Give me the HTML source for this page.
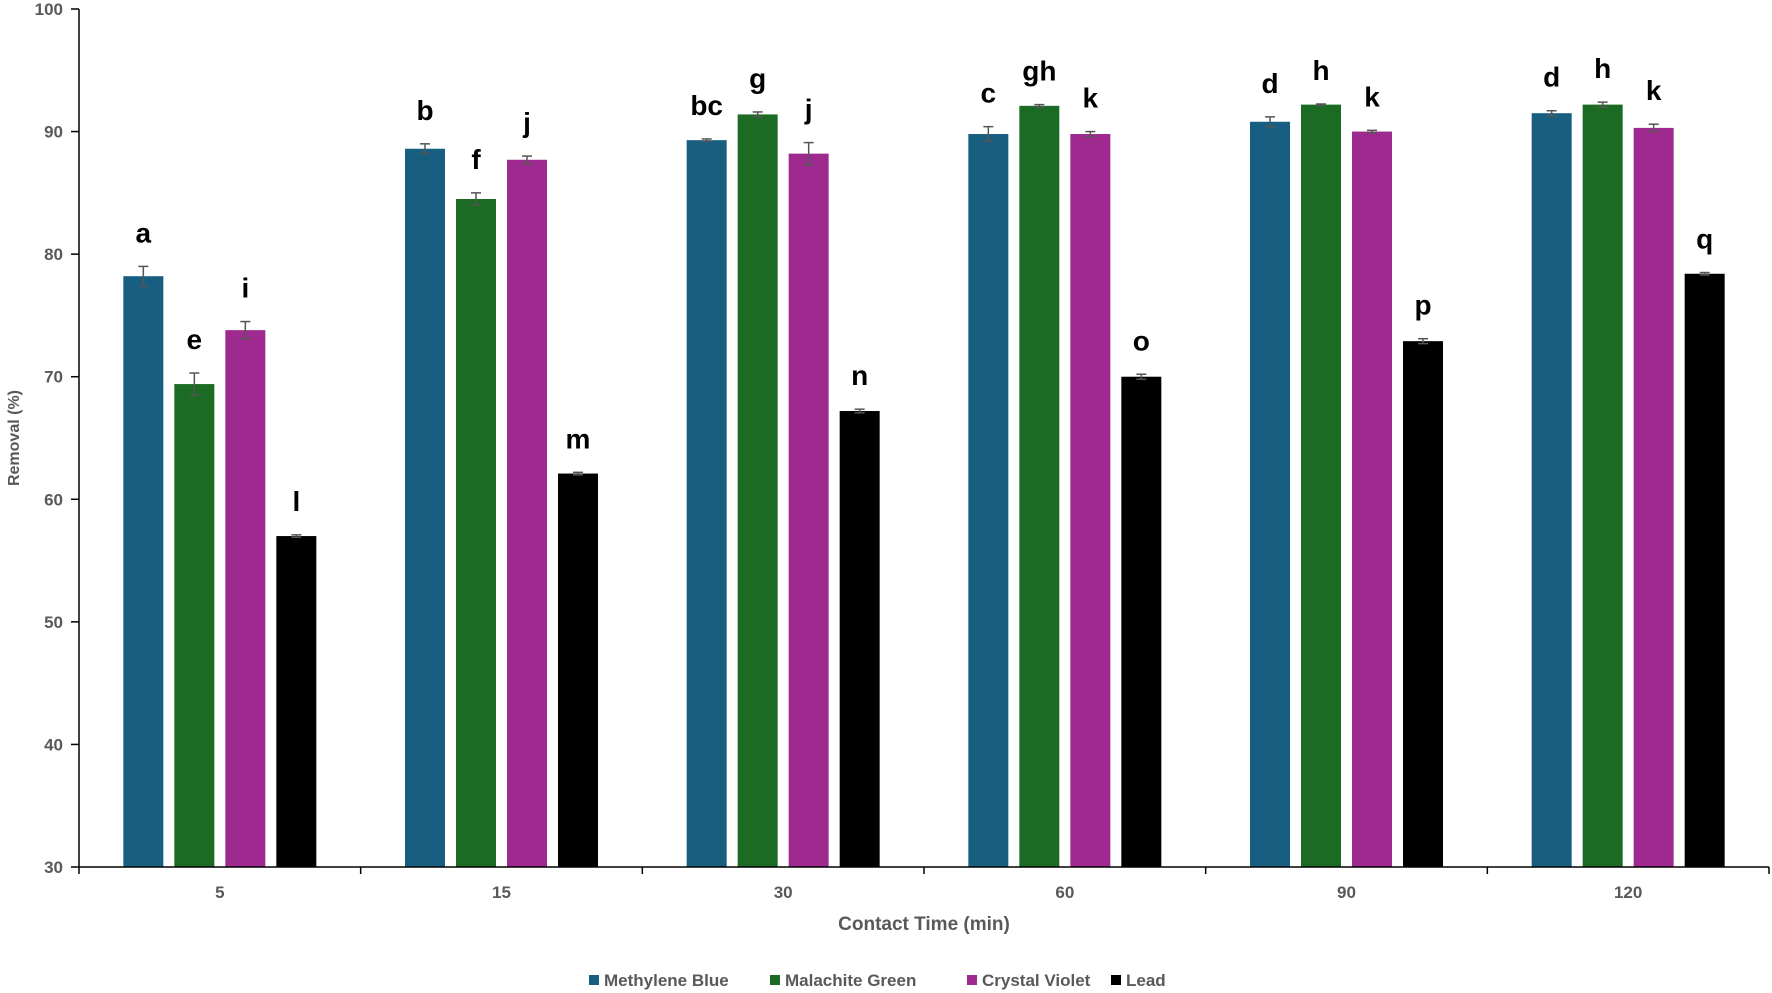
<!DOCTYPE html>
<html><head><meta charset="utf-8"><style>
html,body{margin:0;padding:0;background:#fff;width:1772px;height:993px;overflow:hidden}
svg{display:block;font-family:"Liberation Sans",Arial,sans-serif}
</style></head><body>
<svg id="chart" width="1772" height="993"></svg>
<script>
const categories=["5","15","30","60","90","120"];
const seriesNames=["Methylene Blue","Malachite Green","Crystal Violet","Lead"];
const seriesColors=["#175e80","#1b6b25","#9e2a8f","#000000"];
const methyleneBlue=[78.2,88.6,89.3,89.8,90.8,91.5];
const malachiteGreen=[69.4,84.5,91.4,92.1,92.2,92.2];
const crystalViolet=[73.8,87.7,88.2,89.8,90.0,90.3];
const lead=[57.0,62.1,67.2,70.0,72.9,78.4];
const errMB=[0.8,0.4,0.1,0.6,0.4,0.2];
const errMG=[0.9,0.5,0.2,0.1,0.05,0.2];
const errCV=[0.7,0.3,0.9,0.2,0.1,0.3];
const errPb=[0.1,0.1,0.15,0.2,0.2,0.1];
const lettersMB=["a","b","bc","c","d","d"];
const lettersMG=["e","f","g","gh","h","h"];
const lettersCV=["i","j","j","k","k","k"];
const lettersPb=["l","m","n","o","p","q"];
const yTicks=[30,40,50,60,70,80,90,100];

const series=[methyleneBlue,malachiteGreen,crystalViolet,lead];
const errs=[errMB,errMG,errCV,errPb];
const letters=[lettersMB,lettersMG,lettersCV,lettersPb];
const NS="http://www.w3.org/2000/svg";
const svg=document.getElementById('chart');
const X0=79,X1=1769,Y0=867,Y1=9,YMIN=30,YMAX=100;
const y=v=>Y0-(v-YMIN)/(YMAX-YMIN)*(Y0-Y1);
const cw=(X1-X0)/categories.length;
const cx=i=>X0+cw*(i+0.5);
const BW=40,STEP=51;
function mk(t,a,p){const e=document.createElementNS(NS,t);for(const k in a)e.setAttribute(k,a[k]);(p||svg).appendChild(e);return e;}

yTicks.forEach(v=>{
  const g=mk('g',{});
  
  
  mk('line',{x1:X0-8,x2:X0,y1:y(v),y2:y(v),stroke:'#000','stroke-width':1.5},g);
  const t=mk('text',{x:X0-16,y:y(v)+6,'text-anchor':'end','font-size':17,'font-weight':'bold',fill:'#595959'},g);
  t.textContent=v;
});
series.forEach((s,si)=>{
  s.forEach((v,i)=>{
    const bx=cx(i)+(si-1.5)*STEP-BW/2;
    const r=mk('rect',{x:bx,y:y(v),width:BW,height:Y0-y(v),fill:seriesColors[si]});
    
    
    const e=errs[si][i],mx=bx+BW/2;
    const eg=mk('g',{stroke:'#555','stroke-width':1.5});
    
    
    mk('line',{x1:mx,x2:mx,y1:y(v+e),y2:y(v-e)},eg);
    mk('line',{x1:mx-5,x2:mx+5,y1:y(v+e),y2:y(v+e)},eg);
    mk('line',{x1:mx-5,x2:mx+5,y1:y(v-e),y2:y(v-e)},eg);
    const lt=mk('text',{x:mx,y:y(v+e)-24,'text-anchor':'middle','font-size':28,'font-weight':'bold',fill:'#000'});
    
    
    lt.textContent=letters[si][i];
  });
});
const ya=mk('line',{x1:X0,x2:X0,y1:Y1,y2:Y0,stroke:'#000','stroke-width':1.5});

const xa=mk('line',{x1:X0,x2:X1,y1:Y0,y2:Y0,stroke:'#000','stroke-width':1.5});

for(let i=0;i<=categories.length;i++){
  mk('line',{x1:X0+cw*i,x2:X0+cw*i,y1:Y0,y2:Y0+7,stroke:'#000','stroke-width':1.5});
}
categories.forEach((c,i)=>{
  const t=mk('text',{x:cx(i),y:898,'text-anchor':'middle','font-size':17,'font-weight':'bold',fill:'#595959'});
  
  
  t.textContent=c;
});
const xt=mk('text',{x:924,y:930,'text-anchor':'middle','font-size':19,'font-weight':'bold',fill:'#595959'});

xt.textContent='Contact Time (min)';
const yt=mk('text',{x:0,y:0,'text-anchor':'middle','font-size':16,'font-weight':'bold',fill:'#595959',transform:'translate(19,438) rotate(-90)'});

yt.textContent='Removal (%)';
const lx=[589,770,967,1111];
seriesNames.forEach((n,i)=>{
  const g=mk('g',{});
  
  
  mk('rect',{x:lx[i],y:975,width:10,height:10,fill:seriesColors[i]},g);
  const t=mk('text',{x:lx[i]+15,y:986,'font-size':17,'font-weight':'bold',fill:'#595959'},g);
  t.textContent=n;
});
</script>
</body></html>
